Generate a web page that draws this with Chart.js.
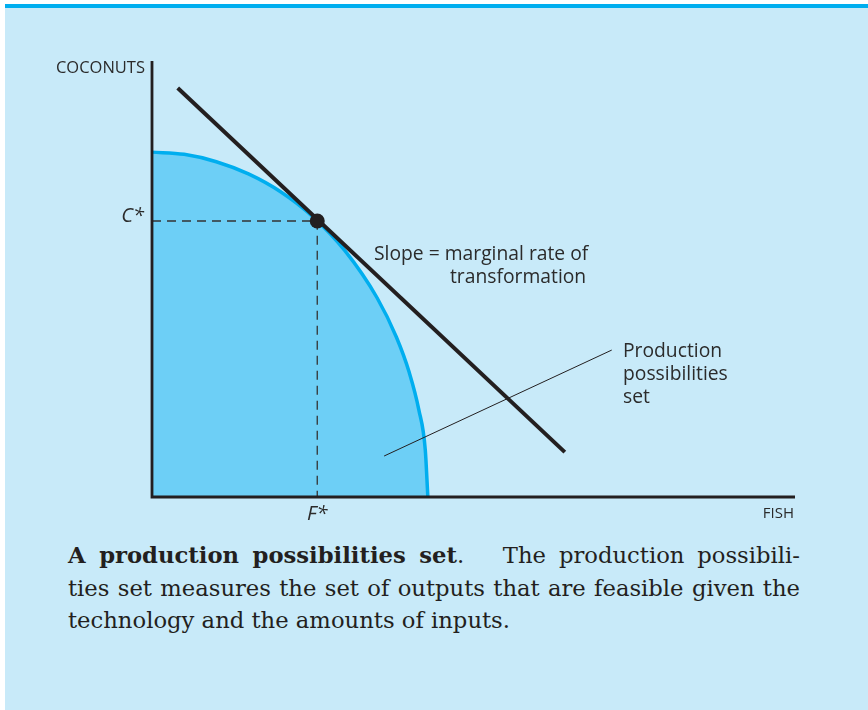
<!DOCTYPE html>
<html>
<head>
<meta charset="utf-8">
<script src="https://cdn.jsdelivr.net/npm/chart.js@4.4.1/dist/chart.umd.min.js"></script>
<style>
    body { margin: 0; background: #ffffff; }
    #panel {
        position: absolute; left: 5px; top: 4px; width: 863px; height: 706px;
        background: #c8eaf9; border-top: 4px solid #00aeef; box-sizing: border-box;
    }
    #ppsChart { position: absolute; left: 0; top: 0; }
    #caption {
        position: absolute; left: 68px; top: 539px; width: 732px;
        font-family: "DejaVu Serif", serif; font-size: 22.7px; line-height: 32.5px;
        color: #231f20; white-space: nowrap;
    }
    #caption .full { text-align: justify; text-align-last: justify; }
</style>
</head>
<body>
<div id="panel"></div>
<canvas id="ppsChart" width="868" height="530"></canvas>
<div id="caption">
    <div class="full"><b>A production possibilities set</b>.&nbsp;&nbsp; The production possibili-</div>
    <div class="full">ties set measures the set of outputs that are feasible given the</div>
    <div>technology and the amounts of inputs.</div>
</div>
<script>
// frontier (fish, coconuts)
const frontierFish = [0, 0.5, 1.0, 1.5, 2.0, 2.5, 3.0, 3.5, 3.8, 4.0, 4.15, 4.25, 4.29];
const frontierCoconuts = [7.91, 7.86, 7.69, 7.41, 7.00, 6.43, 5.65, 4.57, 3.67, 2.86, 2.00, 1.08, 0];

// optimal point
const fStar = 2.57;
const cStar = 6.33;

// tangent line (slope = MRT)
const tangentFish = [0.40, 6.42];
const tangentCoconuts = [9.38, 1.03];

// pointer to the "Production possibilities set" label
const pointerFish = [3.61, 7.15];
const pointerCoconuts = [0.94, 3.37];

const axisMax = 10;

document.addEventListener('DOMContentLoaded', function () {

    const toPts = (xs, ys) => xs.map((x, i) => ({ x: x, y: ys[i] }));
    const ink = '#231f20';

    // text labels drawn on top of the plot
    const labelPlugin = {
        id: 'labels',
        afterDraw(chart) {
            const { ctx, chartArea, scales } = chart;
            const xs = scales.x, ys = scales.y;
            ctx.save();
            ctx.fillStyle = '#2b2b2b';
            ctx.textBaseline = 'alphabetic';

            ctx.textAlign = 'right';
            ctx.font = '16.5px "Open Sans"';
            ctx.fillText('COCONUTS', chartArea.left - 7, chartArea.top + 12);
            ctx.font = '15px "Open Sans"';
            ctx.fillText('FISH', chartArea.right - 1, chartArea.bottom + 21);

            ctx.font = 'italic 20px "Open Sans"';
            ctx.fillText('C*', chartArea.left - 8, ys.getPixelForValue(cStar) + 1);
            ctx.textAlign = 'center';
            ctx.fillText('F*', xs.getPixelForValue(fStar), chartArea.bottom + 23);

            ctx.font = '19.3px "Open Sans"';
            ctx.textAlign = 'left';
            ctx.fillText('Slope = marginal rate of', 374, 260);
            ctx.fillText('transformation', 450, 283);

            ctx.fillText('Production', 623, 357);
            ctx.fillText('possibilities', 623, 380);
            ctx.fillText('set', 623, 403);
            ctx.restore();
        }
    };

    new Chart(document.getElementById('ppsChart'), {
        type: 'scatter',
        data: {
            datasets: [
                {
                    // optimum
                    data: [{ x: fStar, y: cStar }],
                    pointRadius: 7.5,
                    pointBackgroundColor: ink,
                    pointBorderWidth: 0,
                    showLine: false,
                    clip: false,
                    order: 0
                },
                {
                    // tangent
                    data: toPts(tangentFish, tangentCoconuts),
                    showLine: true,
                    borderColor: ink,
                    borderWidth: 4,
                    pointRadius: 0,
                    clip: false,
                    order: 1
                },
                {
                    // axes
                    data: [{ x: 0, y: axisMax }, { x: 0, y: 0 }, { x: axisMax, y: 0 }],
                    showLine: true,
                    borderColor: ink,
                    borderWidth: 2.8,
                    borderJoinStyle: 'miter',
                    pointRadius: 0,
                    clip: false,
                    order: 2
                },
                {
                    // dashed guides
                    data: [{ x: 0, y: cStar }, { x: fStar, y: cStar }, { x: fStar, y: 0 }],
                    showLine: true,
                    borderColor: '#333333',
                    borderWidth: 1.3,
                    borderDash: [9, 6],
                    pointRadius: 0,
                    clip: false,
                    order: 3
                },
                {
                    // pointer
                    data: toPts(pointerFish, pointerCoconuts),
                    showLine: true,
                    borderColor: ink,
                    borderWidth: 1,
                    pointRadius: 0,
                    clip: false,
                    order: 4
                },
                {
                    // production possibilities frontier
                    data: toPts(frontierFish, frontierCoconuts),
                    showLine: true,
                    cubicInterpolationMode: 'monotone',
                    borderColor: '#00aeef',
                    borderWidth: 3.5,
                    backgroundColor: '#6dcff6',
                    fill: 'origin',
                    pointRadius: 0,
                    clip: false,
                    order: 5
                }
            ]
        },
        options: {
            responsive: false,
            animation: false,
            layout: { padding: { left: 152, top: 61, right: 73, bottom: 33 } },
            scales: {
                x: { type: 'linear', min: 0, max: axisMax, display: false },
                y: { type: 'linear', min: 0, max: axisMax, display: false }
            },
            plugins: {
                legend: { display: false },
                tooltip: { enabled: false }
            }
        },
        plugins: [labelPlugin]
    });
});
</script>
</body>
</html>
